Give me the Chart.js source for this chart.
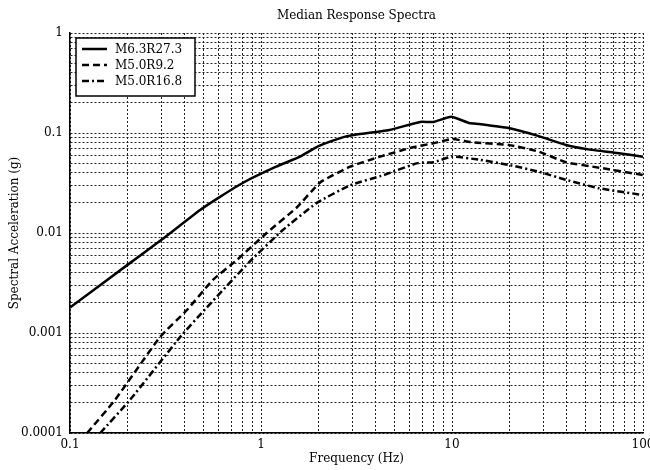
<!DOCTYPE html>
<html lang="en">
<head>
    <meta charset="UTF-8">
    <title>Median Response Spectra</title>
    <script src="https://cdnjs.cloudflare.com/ajax/libs/Chart.js/4.4.1/chart.umd.min.js"></script>
    <style>
        body {
            margin: 0;
            background-color: #fff;
        }
        .chart-container {
            width: 650px;
            height: 470px;
        }
    </style>
</head>
<body>
    <div class="chart-container">
        <canvas id="spectraChart" width="650" height="470"></canvas>
    </div>

    <script>
        // values (frequency in Hz, acceleration in g)
        const freqM63R273 = [0.1, 0.2, 0.3, 0.48, 0.61, 0.81, 1.2, 1.6, 2.0, 2.7, 3.0, 4.7, 6.8, 8.0, 9.9, 12.3, 13.9, 19.8, 28.5, 39.5, 51, 73, 100];
        const accM63R273 = [0.0018, 0.0048, 0.0085, 0.017, 0.023, 0.032, 0.046, 0.058, 0.074, 0.091, 0.095, 0.107, 0.129, 0.129, 0.145, 0.126, 0.123, 0.112, 0.093, 0.076, 0.069, 0.063, 0.058];

        const freqM50R92 = [0.123, 0.172, 0.296, 0.41, 0.56, 0.75, 1.07, 1.54, 2.04, 2.93, 4.2, 6.25, 8.0, 10, 12.6, 19.8, 28.5, 39.5, 59, 100];
        const accM50R92 = [0.0001, 0.000214, 0.00091, 0.0017, 0.0034, 0.0054, 0.010, 0.018, 0.032, 0.046, 0.058, 0.072, 0.079, 0.087, 0.081, 0.076, 0.065, 0.051, 0.045, 0.038];

        const freqM50R168 = [0.144, 0.206, 0.377, 0.52, 0.875, 1.3, 1.96, 2.93, 4.4, 6.6, 8.0, 10, 13.9, 19.8, 28.5, 39.5, 59, 100];
        const accM50R168 = [0.0001, 0.000214, 0.00091, 0.0018, 0.0052, 0.0107, 0.020, 0.030, 0.038, 0.050, 0.051, 0.058, 0.054, 0.048, 0.041, 0.034, 0.028, 0.024];

        const seriesLabels = ['M6.3R27.3', 'M5.0R9.2', 'M5.0R16.8'];
        const xTickLabels = ['0.1', '1', '10', '100'];
        const yTickLabels = ['0.0001', '0.001', '0.01', '0.1', '1'];

        const FONT = '"DejaVu Serif", "Liberation Serif", serif';

        function toPoints(xs, ys) {
            return xs.map((x, i) => ({ x: x, y: ys[i] }));
        }

        // 1..9 x 10^n so every decade gets its minor grid lines
        function logTicks(min, max) {
            const ticks = [];
            for (let e = Math.floor(Math.log10(min)); e <= Math.ceil(Math.log10(max)); e++) {
                for (let m = 1; m <= 9; m++) {
                    const v = m * Math.pow(10, e);
                    if (v >= min * 0.999 && v <= max * 1.001) ticks.push({ value: v });
                }
            }
            return ticks;
        }

        function decadeLabel(labels, min) {
            return function(value) {
                const d = Math.log10(value / min);
                const k = Math.round(d);
                return Math.abs(d - k) < 1e-6 ? labels[k] : '';
            };
        }

        // legend in a boxed frame inside the plot, top left
        const boxedLegend = {
            id: 'boxedLegend',
            afterDraw(chart) {
                const ctx = chart.ctx;
                const area = chart.chartArea;
                const x = area.left + 6;
                const y = area.top + 5;
                ctx.save();
                ctx.fillStyle = '#fff';
                ctx.fillRect(x, y, 119, 58);
                ctx.strokeStyle = '#000';
                ctx.lineWidth = 1.5;
                ctx.strokeRect(x, y, 119, 58);
                ctx.font = '12px ' + FONT;
                ctx.textBaseline = 'middle';
                chart.data.datasets.forEach((ds, i) => {
                    const ly = y + 11 + i * 16;
                    ctx.setLineDash(ds.borderDash || []);
                    ctx.lineWidth = ds.borderWidth;
                    ctx.beginPath();
                    ctx.moveTo(x + 6, ly);
                    ctx.lineTo(x + 31, ly);
                    ctx.stroke();
                    ctx.setLineDash([]);
                    ctx.fillStyle = '#000';
                    ctx.fillText(ds.label, x + 39, ly + 1);
                });
                ctx.restore();
            }
        };

        const lineStyle = {
            borderColor: '#000',
            borderWidth: 2.5,
            pointRadius: 0,
            fill: false,
            tension: 0.15
        };

        const ctx = document.getElementById('spectraChart').getContext('2d');
        new Chart(ctx, {
            type: 'line',
            data: {
                datasets: [
                    Object.assign({ label: seriesLabels[0], data: toPoints(freqM63R273, accM63R273), borderDash: [] }, lineStyle),
                    Object.assign({ label: seriesLabels[1], data: toPoints(freqM50R92, accM50R92), borderDash: [7, 4] }, lineStyle),
                    Object.assign({ label: seriesLabels[2], data: toPoints(freqM50R168, accM50R168), borderDash: [7, 3, 2, 3] }, lineStyle)
                ]
            },
            options: {
                responsive: false,
                animation: false,
                layout: { padding: 0 },
                plugins: {
                    legend: { display: false },
                    tooltip: { enabled: false },
                    title: {
                        display: true,
                        text: 'Median Response Spectra',
                        fullSize: false,
                        color: '#000',
                        font: { family: FONT, size: 12, weight: 'normal' },
                        padding: { top: 9, bottom: 9.6 }
                    }
                },
                scales: {
                    x: {
                        type: 'logarithmic',
                        min: 0.1,
                        max: 100,
                        afterBuildTicks: scale => { scale.ticks = logTicks(0.1, 100); },
                        afterFit: scale => { scale.height = 37; scale.paddingRight = 7; scale.paddingLeft = 0; },
                        ticks: {
                            autoSkip: false,
                            maxRotation: 0,
                            padding: 5,
                            color: '#000',
                            font: { family: FONT, size: 12 },
                            callback: decadeLabel(xTickLabels, 0.1)
                        },
                        grid: { color: '#222', lineWidth: 1, drawTicks: false },
                        border: { display: true, color: '#000', width: 1.5, dash: [2, 2] },
                        title: {
                            display: true,
                            text: 'Frequency (Hz)',
                            color: '#000',
                            font: { family: FONT, size: 12 },
                            padding: { top: 2, bottom: 4 }
                        }
                    },
                    y: {
                        type: 'logarithmic',
                        min: 0.0001,
                        max: 1,
                        afterBuildTicks: scale => { scale.ticks = logTicks(0.0001, 1); },
                        afterFit: scale => { scale.width = 70; },
                        ticks: {
                            autoSkip: false,
                            padding: 7,
                            color: '#000',
                            font: { family: FONT, size: 12 },
                            callback: decadeLabel(yTickLabels, 0.0001)
                        },
                        grid: { color: '#222', lineWidth: 1, drawTicks: false },
                        border: { display: true, color: '#000', width: 1.5, dash: [2, 2] },
                        title: {
                            display: true,
                            text: 'Spectral Acceleration (g)',
                            color: '#000',
                            font: { family: FONT, size: 12 },
                            padding: { top: 8, bottom: 2 }
                        }
                    }
                }
            },
            plugins: [boxedLegend]
        });
    </script>
</body>
</html>
